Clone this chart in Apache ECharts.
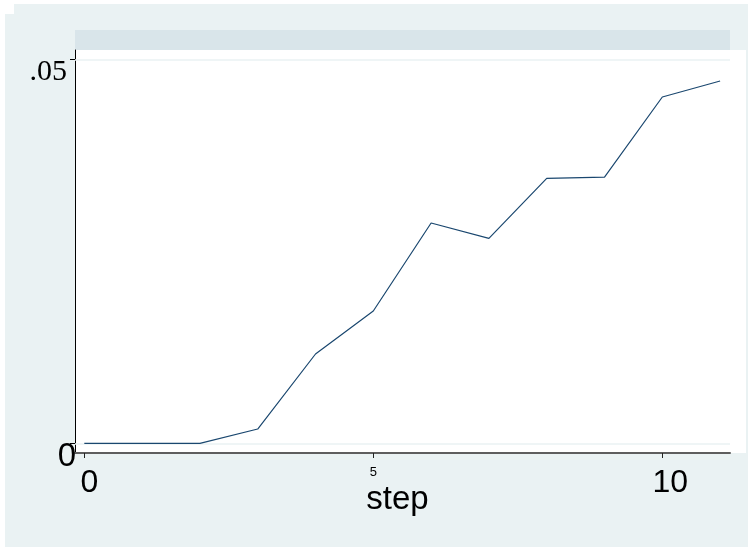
<!DOCTYPE html>
<html>
<head>
<meta charset="utf-8">
<style>
  html, body { margin: 0; padding: 0; background: #ffffff; }
  #chart { width: 748px; height: 552px; }
</style>
<script src="https://cdn.jsdelivr.net/npm/echarts@6/dist/echarts.min.js"></script>
</head>
<body>
<div id="chart"></div>
<script>
// step index and the measured value at each step
var steps = [0, 1, 2, 3, 4, 5, 6, 7, 8, 9, 10, 11];
var values = [0, 0, 0, 0.00186, 0.01163, 0.01723, 0.02868, 0.02669, 0.0345, 0.03467, 0.04509, 0.04717];

// tick positions
var xTicks = [0, 5, 10];
var yTicks = [0, 0.05];
var yTickLabels = ['0', '.05'];

var chart = echarts.init(document.getElementById('chart'), null, { renderer: 'canvas' });

var sans = 'Liberation Sans, Arial, sans-serif';
var serif = 'Liberation Serif, Times New Roman, serif';

chart.setOption({
  backgroundColor: '#ffffff',
  animation: false,
  graphic: [
    // graph region
    { type: 'rect', z: -10, shape: { x: 14, y: 4, width: 734, height: 10 }, style: { fill: '#eaf2f3' }, silent: true },
    { type: 'rect', z: -10, shape: { x: 5, y: 14, width: 743, height: 533 }, style: { fill: '#eaf2f3' }, silent: true },
    // title band above the plot
    { type: 'rect', z: -9, shape: { x: 75, y: 30, width: 655, height: 20 }, style: { fill: '#d9e5ea' }, silent: true },
    // plot region
    { type: 'rect', z: -9, shape: { x: 75, y: 50, width: 671, height: 403 }, style: { fill: '#ffffff' }, silent: true }
  ],
  grid: { left: 75, right: 18, top: 50, bottom: 99, containLabel: false },
  xAxis: {
    type: 'value',
    min: -0.161,
    max: 11.171,
    name: 'step',
    nameLocation: 'middle',
    nameGap: 30,
    nameMoveOverlap: false,
    nameTextStyle: { fontFamily: sans, fontSize: 33, color: '#000', padding: [0, 10, 0, 0] },
    axisLine: { show: true, onZero: false, lineStyle: { color: '#5e5e5e', width: 2 } },
    axisTick: { show: true, length: 5, customValues: xTicks, lineStyle: { color: '#222', width: 1 } },
    axisLabel: {
      customValues: xTicks,
      margin: 13,
      verticalAlign: 'top',
      formatter: function (v) {
        if (v === 5) return '{s|' + v + '}';
        if (v === 10) return '{w|' + v + '}';
        return '{b|' + v + '}';
      },
      rich: {
        s: { fontFamily: sans, fontSize: 13, lineHeight: 13, color: '#000' },
        b: { fontFamily: sans, fontSize: 32, lineHeight: 28, color: '#000', padding: [6, 0, 0, 10] },
        w: { fontFamily: sans, fontSize: 32, lineHeight: 28, color: '#000', padding: [6, 0, 0, 16] }
      }
    },
    splitLine: { show: false }
  },
  yAxis: {
    type: 'value',
    min: -0.00126,
    max: 0.05121,
    axisLine: { show: true, onZero: false, lineStyle: { color: '#000', width: 1 } },
    axisTick: { show: true, length: 5, customValues: yTicks, lineStyle: { color: '#000', width: 1 } },
    axisLabel: {
      customValues: yTicks,
      margin: -1,
      verticalAlign: 'top',
      formatter: function (v) {
        return v === 0 ? '{z|' + yTickLabels[0] + '}' : '{f|' + yTickLabels[1] + '}';
      },
      rich: {
        z: { fontFamily: sans, fontSize: 33, lineHeight: 24, color: '#000', padding: [3, 0, 0, 0] },
        f: { fontFamily: serif, fontSize: 30, lineHeight: 22, color: '#000', padding: [3, 9, 0, 0] }
      }
    },
    splitLine: { show: false }
  },
  series: [{
    type: 'line',
    data: steps.map(function (s, i) { return [s, values[i]]; }),
    showSymbol: false,
    symbol: 'none',
    lineStyle: { color: '#1a476f', width: 1.2 },
    z: 3,
    markLine: {
      silent: true,
      symbol: ['none', 'none'],
      label: { show: false },
      lineStyle: { color: '#eaf2f3', width: 1.5, type: 'solid' },
      data: yTicks.map(function (t) { return { yAxis: t }; }),
      z: 1
    }
  }]
});
</script>
</body>
</html>
